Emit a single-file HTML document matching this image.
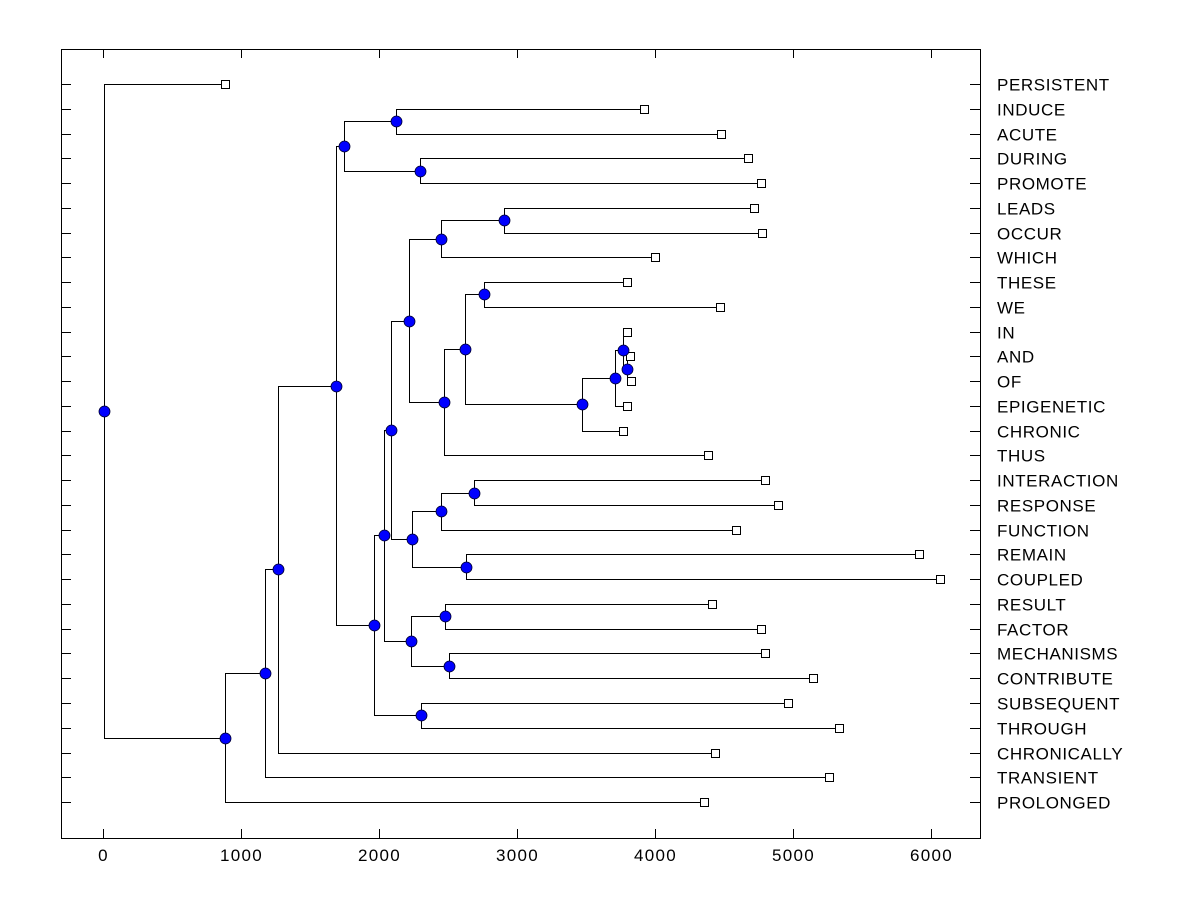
<!DOCTYPE html>
<html><head><meta charset="utf-8"><style>
html,body{margin:0;padding:0;background:#fff;}
svg{display:block;font-family:"Liberation Sans",Arial,sans-serif;}
</style></head><body>
<svg id="chart" width="1200" height="900" xmlns="http://www.w3.org/2000/svg"></svg>
<script>
const labels = ["PERSISTENT","INDUCE","ACUTE","DURING","PROMOTE","LEADS","OCCUR","WHICH","THESE","WE","IN","AND","OF","EPIGENETIC","CHRONIC","THUS","INTERACTION","RESPONSE","FUNCTION","REMAIN","COUPLED","RESULT","FACTOR","MECHANISMS","CONTRIBUTE","SUBSEQUENT","THROUGH","CHRONICALLY","TRANSIENT","PROLONGED"];
const leafValues = [884,3920,4478,4667,4768,4717,4775,3993,3790,4471,3790,3812,3819,3797,3761,4377,4790,4891,4580,5913,6058,4413,4768,4790,5138,4957,5333,4428,5254,4355];
const nodeNames = ["nB","nA","nC","n581","n483","n465","n444","n503","n441","n409","n474","n441b","n466","n411","n389","n445","n448","n410","n384","nSub","nMid","nInduce","nDuring","nTop","n4","n3","n2","n1","root"];
const nodeHeights = [3790,3761,3710,3464,2754,2623,2471,2899,2449,2217,2688,2449,2630,2232,2080,2478,2500,2225,2036,2304,1957,2116,2297,1746,1688,1261,1167,884,0];
const nodeChildren = [["L11","L12"],["L10","nB"],["nA","L13"],["nC","L14"],["L8","L9"],["n483","n581"],["n465","L15"],["L5","L6"],["n503","L7"],["n441","n444"],["L16","L17"],["n474","L18"],["L19","L20"],["n441b","n466"],["n409","n411"],["L21","L22"],["L23","L24"],["n445","n448"],["n389","n410"],["L25","L26"],["n384","nSub"],["L1","L2"],["L3","L4"],["nInduce","nDuring"],["nTop","nMid"],["n4","L27"],["n3","L28"],["n2","L29"],["L0","n1"]];
const xTicks = [0,1000,2000,3000,4000,5000,6000];

const NS="http://www.w3.org/2000/svg";
const svg=document.getElementById('chart');
const L=61,R=980,T=49,B=838;
const xs=v=>103.5+v*0.138;
const ys=i=>84+i*24.76;
function mk(tag,attrs,parent){const e=document.createElementNS(NS,tag);for(const k in attrs)e.setAttribute(k,attrs[k]);(parent||svg).appendChild(e);return e;}

const frame=mk('rect',{x:L+0.5,y:T+0.5,width:R-L,height:B-T,fill:'none',stroke:'#000','stroke-width':1});



xTicks.forEach(t=>{
  const x=xs(t);
  const tb=mk('line',{x1:x,x2:x,y1:B,y2:B-9,stroke:'#000'});
  
  
  const tt=mk('line',{x1:x,x2:x,y1:T,y2:T+9,stroke:'#000'});
  
  
  const lb=mk('text',{x:x,y:861,'text-anchor':'middle','font-size':17,'letter-spacing':1.3,fill:'#000'});
  lb.textContent=t;
  
  
});

labels.forEach((s,i)=>{
  const y=Math.round(ys(i))+0.5;
  const tl=mk('line',{x1:L,x2:L+10,y1:y,y2:y,stroke:'#000'});
  
  
  const tr=mk('line',{x1:R-10,x2:R,y1:y,y2:y,stroke:'#000'});
  
  
  const t=mk('text',{x:997,y:y+6,'font-size':17,'letter-spacing':0.6,fill:'#000'});
  t.textContent=s;
  
  
});

const pos={};
labels.forEach((s,i)=>{pos['L'+i]={x:xs(leafValues[i]),y:ys(i)};});
nodeNames.forEach((n,k)=>{
  const a=pos[nodeChildren[k][0]],b=pos[nodeChildren[k][1]];
  pos[n]={x:xs(nodeHeights[k]),y:(a.y+b.y)/2};
});
const gl=mk('g',{});


nodeNames.forEach((n,k)=>{
  const p=pos[n],a=pos[nodeChildren[k][0]],b=pos[nodeChildren[k][1]];
  const x=Math.round(p.x)+0.5,ya=Math.round(a.y)+0.5,yb=Math.round(b.y)+0.5;
  const path=mk('path',{d:`M${a.x},${ya}H${x}V${yb}H${b.x}`,fill:'none',stroke:'#000','stroke-width':1},gl);
  
  
});
labels.forEach((s,i)=>{
  const p=pos['L'+i];
  const r=mk('rect',{x:Math.round(p.x)-3.5,y:Math.round(p.y)-4+0.5,width:8,height:8,fill:'#fff',stroke:'#000'});
  
  
});
nodeNames.forEach((n,k)=>{
  const p=pos[n];
  const c=mk('circle',{cx:Math.round(p.x)+0.5,cy:Math.round(p.y)+0.5,r:5.5,fill:'#0000ff',stroke:'#000033','stroke-width':0.8});
  
  
});
</script>
</body></html>
